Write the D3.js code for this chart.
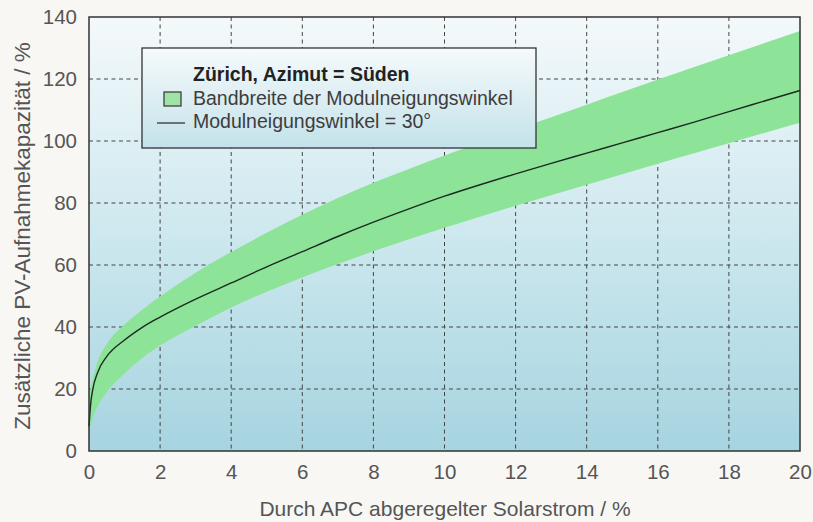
<!DOCTYPE html>
<html>
<head>
<meta charset="utf-8">
<script src="https://cdn.jsdelivr.net/npm/d3@7/dist/d3.min.js"></script>
<style>
  html, body { margin: 0; padding: 0; background: #f8f7f4; }
  svg { display: block; font-family: "Liberation Sans", Arial, sans-serif; }
</style>
</head>
<body>
<svg id="chart" width="813" height="522"></svg>
<script>
// Abgeregelter Solarstrom (%) -> zusätzliche PV-Aufnahmekapazität (%)
const curtailed = [0, 0.05, 0.1, 0.25, 0.5, 1, 1.5, 2, 3, 4, 5, 6, 7, 8, 9, 10, 11, 12, 13, 14, 15, 16, 17, 18, 19, 20];
const tilt30    = [8, 15.5, 19.5, 25.5, 30.5, 35.8, 39.9, 43.2, 49, 54.2, 59.4, 64.3, 69.2, 73.8, 78.1, 82.2, 85.9, 89.4, 92.8, 96.1, 99.4, 102.7, 106.0, 109.5, 112.9, 116.3];
const bandUpper = [17, 20.5, 23, 29, 34.5, 40.8, 45.6, 49.8, 57.5, 64.2, 70.4, 76.2, 81.6, 86.5, 91.0, 95.3, 99.5, 103.6, 107.7, 111.7, 115.8, 119.8, 123.8, 127.7, 131.6, 135.5];
const bandLower = [6.5, 8.5, 10.5, 14.5, 19, 25, 30, 34, 40.4, 46.3, 51.4, 56.0, 60.3, 64.4, 68.3, 72.0, 75.6, 79.1, 82.5, 85.9, 89.3, 92.7, 96.0, 99.3, 102.6, 105.9];

const xTicks = [0, 2, 4, 6, 8, 10, 12, 14, 16, 18, 20];
const yTicks = [0, 20, 40, 60, 80, 100, 120, 140];

const legendTitle = "Zürich, Azimut = Süden";
const legendBand = "Bandbreite der Modulneigungswinkel";
const legendLine = "Modulneigungswinkel = 30°";
const xTitle = "Durch APC abgeregelter Solarstrom / %";
const yTitle = "Zusätzliche PV-Aufnahmekapazität / %";

const W = 813, H = 522;
const m = { left: 89, right: 13, top: 17, bottom: 71 };
const pw = W - m.left - m.right, ph = H - m.top - m.bottom;

const svg = d3.select("#chart");
const defs = svg.append("defs");

const bgGrad = defs.append("linearGradient").attr("id", "plotBg")
  .attr("x1", 0).attr("y1", 0).attr("x2", 0).attr("y2", 1);
bgGrad.append("stop").attr("offset", 0).attr("stop-color", "#f4f9fb");
bgGrad.append("stop").attr("offset", 0.45).attr("stop-color", "#d1eaf0");
bgGrad.append("stop").attr("offset", 1).attr("stop-color", "#a6d4e0");

const lgGrad = defs.append("linearGradient").attr("id", "legendBg")
  .attr("x1", 0).attr("y1", 0).attr("x2", 0).attr("y2", 1);
lgGrad.append("stop").attr("offset", 0).attr("stop-color", "#f6fafb");
lgGrad.append("stop").attr("offset", 1).attr("stop-color", "#c3e2ea");

const x = d3.scaleLinear().domain([0, 20]).range([0, pw]);
const y = d3.scaleLinear().domain([0, 140]).range([ph, 0]);

const g = svg.append("g").attr("transform", `translate(${m.left},${m.top})`);

// plot background
g.append("rect").attr("width", pw).attr("height", ph).attr("fill", "url(#plotBg)");

// dashed grid
const gridStyle = sel => sel.attr("stroke", "#444").attr("stroke-width", 1)
  .attr("stroke-dasharray", "4,3.5");
g.append("g").selectAll("line").data(xTicks.filter(d => d > 0 && d < 20)).join("line")
  .attr("x1", d => x(d)).attr("x2", d => x(d)).attr("y1", 0).attr("y2", ph).call(gridStyle);
g.append("g").selectAll("line").data(yTicks.filter(d => d > 0 && d < 140)).join("line")
  .attr("y1", d => y(d)).attr("y2", d => y(d)).attr("x1", 0).attr("x2", pw).call(gridStyle);

// legend box (band is drawn over it)
const lg = svg.append("g").attr("transform", "translate(142,48)");
lg.append("rect").attr("width", 394).attr("height", 100)
  .attr("fill", "url(#legendBg)").attr("stroke", "#333").attr("stroke-width", 1.3);

// band of tilt angles
const pts = curtailed.map((c, i) => ({ c, lo: bandLower[i], hi: bandUpper[i], v: tilt30[i] }));
const area = d3.area().x(d => x(d.c)).y0(d => y(d.lo)).y1(d => y(d.hi)).curve(d3.curveMonotoneX);
g.append("path").datum(pts).attr("d", area).attr("fill", "#8de498");

const line = d3.line().x(d => x(d.c)).y(d => y(d.v)).curve(d3.curveMonotoneX);
g.append("path").datum(pts).attr("d", line).attr("fill", "none")
  .attr("stroke", "#1c2a22").attr("stroke-width", 1.4);

// frame
g.append("rect").attr("width", pw).attr("height", ph).attr("fill", "none")
  .attr("stroke", "#333").attr("stroke-width", 1.5);

// axes
const xAxis = g.append("g").attr("transform", `translate(0,${ph})`)
  .call(d3.axisBottom(x).tickValues(xTicks).tickSize(0).tickPadding(0));
xAxis.select(".domain").remove();
xAxis.selectAll("text").attr("y", 28).attr("dy", 0)
  .attr("fill", "#555").style("font-size", "20.5px");

const yAxis = g.append("g")
  .call(d3.axisLeft(y).tickValues(yTicks).tickSize(0).tickPadding(12));
yAxis.select(".domain").remove();
yAxis.selectAll("text").attr("fill", "#555").style("font-size", "20.5px");

svg.selectAll(".tick text").attr("font-family", "Liberation Sans, Arial, sans-serif");

// axis titles
svg.append("text").attr("x", 445).attr("y", 516).attr("text-anchor", "middle")
  .attr("fill", "#555").style("font-size", "21px").text(xTitle);
svg.append("text").attr("transform", "translate(30,236) rotate(-90)").attr("text-anchor", "middle")
  .attr("fill", "#555").style("font-size", "22.5px").text(yTitle);

// legend content
lg.append("text").attr("x", 51).attr("y", 33).attr("fill", "#222")
  .style("font-size", "19.5px").style("font-weight", "bold").text(legendTitle);
lg.append("rect").attr("x", 22).attr("y", 44).attr("width", 17).attr("height", 14)
  .attr("fill", "#9fe3a6").attr("stroke", "#333").attr("stroke-width", 1.2);
lg.append("text").attr("x", 51).attr("y", 57).attr("fill", "#3d3d3d")
  .style("font-size", "19.5px").text(legendBand);
lg.append("line").attr("x1", 15).attr("x2", 43).attr("y1", 75).attr("y2", 75)
  .attr("stroke", "#333").attr("stroke-width", 1.3);
lg.append("text").attr("x", 51).attr("y", 80).attr("fill", "#3d3d3d")
  .style("font-size", "19.5px").text(legendLine);
</script>
</body>
</html>
